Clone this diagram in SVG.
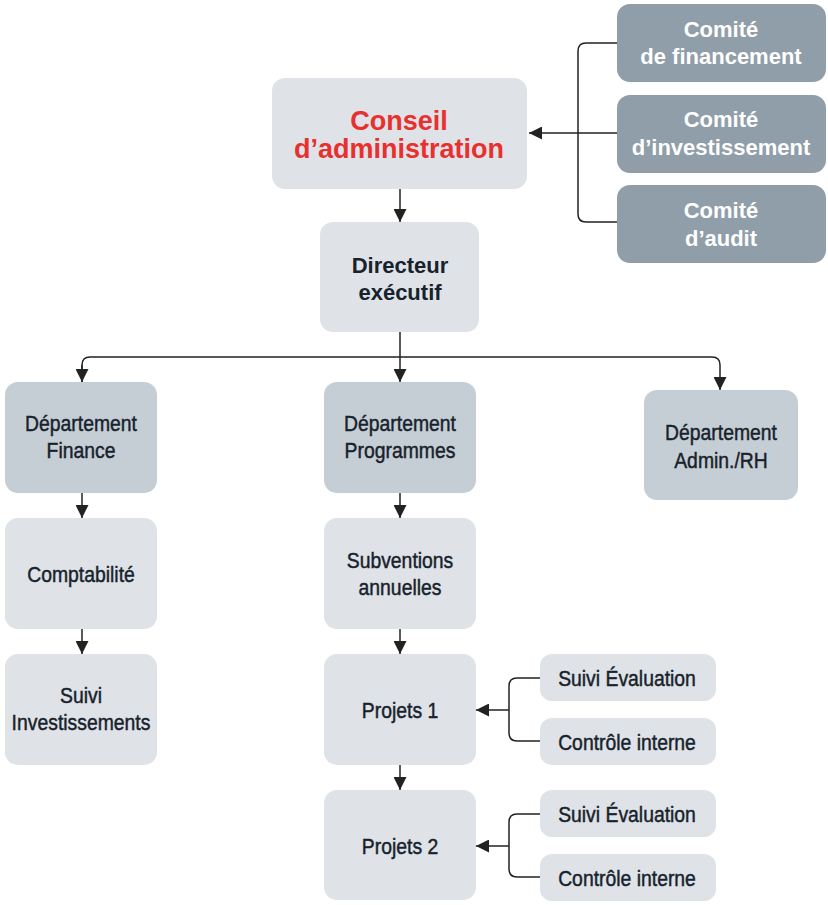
<svg xmlns="http://www.w3.org/2000/svg" width="828" height="905" viewBox="0 0 828 905">
<defs>
<marker id="ah" viewBox="0 0 10 10" refX="10" refY="5" markerWidth="13" markerHeight="13" markerUnits="userSpaceOnUse" orient="auto">
<path d="M0,0 L10,5 L0,10 Z" fill="#222"/>
</marker>
<style>
.light{fill:#dfe3e7}
.mid{fill:#c6ced5}
.dark{fill:#8f9ea8}
.c{fill:none;stroke:#222;stroke-width:1.5}
.cm{font-family:"Liberation Sans",Arial,sans-serif;font-weight:bold;font-size:22px;fill:#fff;text-anchor:middle}
.cn{font-family:"Liberation Sans",Arial,sans-serif;font-weight:bold;font-size:27px;fill:#e8302f;text-anchor:middle}
.dr{font-family:"Liberation Sans",Arial,sans-serif;font-weight:bold;font-size:22px;fill:#17222c;text-anchor:middle}
.nr{font-family:"Liberation Sans",Arial,sans-serif;font-size:22px;fill:#17222c;stroke:#17222c;stroke-width:0.45;text-anchor:middle}
</style>
</defs>
<g id="connectors">
<path class="c" d="M617,43 H586 Q578,43 578,51 V214 Q578,222 586,222 H617"/>
<path class="c" d="M617,133 H529" marker-end="url(#ah)"/>
<path class="c" d="M400,189 V222" marker-end="url(#ah)"/>
<path class="c" d="M400,332 V382" marker-end="url(#ah)"/>
<path class="c" d="M82,382 V365 Q82,357 90,357 H712 Q720,357 720,365 V390" marker-end="url(#ah)"/>
<path class="c" d="M82,365 V382" marker-end="url(#ah)"/>
<path class="c" d="M82,493 V518" marker-end="url(#ah)"/>
<path class="c" d="M82,629 V654" marker-end="url(#ah)"/>
<path class="c" d="M400,493 V518" marker-end="url(#ah)"/>
<path class="c" d="M400,629 V654" marker-end="url(#ah)"/>
<path class="c" d="M400,765 V790" marker-end="url(#ah)"/>
<path class="c" d="M540,678 H517 Q509,678 509,686 V733 Q509,741 517,741 H540"/>
<path class="c" d="M509,710 H476" marker-end="url(#ah)"/>
<path class="c" d="M540,814 H517 Q509,814 509,822 V869 Q509,877 517,877 H540"/>
<path class="c" d="M509,846 H476" marker-end="url(#ah)"/>
</g>
<g id="comite-financement"><rect class="dark" x="617" y="4" width="209" height="78" rx="13"/><text class="cm" x="721" y="37">Comité</text><text class="cm" x="721" y="64">de financement</text></g>
<g id="comite-investissement"><rect class="dark" x="617" y="95" width="209" height="78" rx="13"/><text class="cm" x="721" y="127">Comité</text><text class="cm" x="721" y="155">d’investissement</text></g>
<g id="comite-audit"><rect class="dark" x="617" y="185" width="209" height="78" rx="13"/><text class="cm" x="721" y="218">Comité</text><text class="cm" x="721" y="246">d’audit</text></g>
<g id="conseil"><rect class="light" x="272" y="78" width="255" height="111" rx="13"/><text class="cn" x="399" y="130">Conseil</text><text class="cn" x="399" y="158">d’administration</text></g>
<g id="directeur"><rect class="light" x="320" y="222" width="159" height="110" rx="13"/><text class="dr" x="400" y="273">Directeur</text><text class="dr" x="400" y="300">exécutif</text></g>
<g id="dept-finance"><rect class="mid" x="5" y="382" width="152" height="111" rx="13"/><text class="nr" transform="translate(81,431) scale(0.88,1)">Département</text><text class="nr" transform="translate(81,458) scale(0.88,1)">Finance</text></g>
<g id="dept-programmes"><rect class="mid" x="324" y="382" width="152" height="111" rx="13"/><text class="nr" transform="translate(400,431) scale(0.88,1)">Département</text><text class="nr" transform="translate(400,458) scale(0.88,1)">Programmes</text></g>
<g id="dept-admin"><rect class="mid" x="644" y="390" width="154" height="110" rx="13"/><text class="nr" transform="translate(721,440) scale(0.88,1)">Département</text><text class="nr" transform="translate(721,468) scale(0.88,1)">Admin./RH</text></g>
<g id="comptabilite"><rect class="light" x="5" y="518" width="152" height="111" rx="13"/><text class="nr" transform="translate(81,582) scale(0.88,1)">Comptabilité</text></g>
<g id="suivi-investissements"><rect class="light" x="5" y="654" width="152" height="111" rx="13"/><text class="nr" transform="translate(81,703) scale(0.88,1)">Suivi</text><text class="nr" transform="translate(81,730) scale(0.88,1)">Investissements</text></g>
<g id="subventions"><rect class="light" x="324" y="518" width="152" height="111" rx="13"/><text class="nr" transform="translate(400,568) scale(0.88,1)">Subventions</text><text class="nr" transform="translate(400,595) scale(0.88,1)">annuelles</text></g>
<g id="projets1"><rect class="light" x="324" y="654" width="152" height="111" rx="13"/><text class="nr" transform="translate(400,718) scale(0.88,1)">Projets 1</text></g>
<g id="projets2"><rect class="light" x="324" y="790" width="152" height="110" rx="13"/><text class="nr" transform="translate(400,854) scale(0.88,1)">Projets 2</text></g>
<g id="suivi-eval-1"><rect class="light" x="540" y="654" width="176" height="47" rx="12"/><text class="nr" transform="translate(627,686) scale(0.88,1)">Suivi Évaluation</text></g>
<g id="controle-1"><rect class="light" x="540" y="718" width="176" height="47" rx="12"/><text class="nr" transform="translate(627,750) scale(0.88,1)">Contrôle interne</text></g>
<g id="suivi-eval-2"><rect class="light" x="540" y="790" width="176" height="47" rx="12"/><text class="nr" transform="translate(627,822) scale(0.88,1)">Suivi Évaluation</text></g>
<g id="controle-2"><rect class="light" x="540" y="854" width="176" height="47" rx="12"/><text class="nr" transform="translate(627,886) scale(0.88,1)">Contrôle interne</text></g>
</svg>
